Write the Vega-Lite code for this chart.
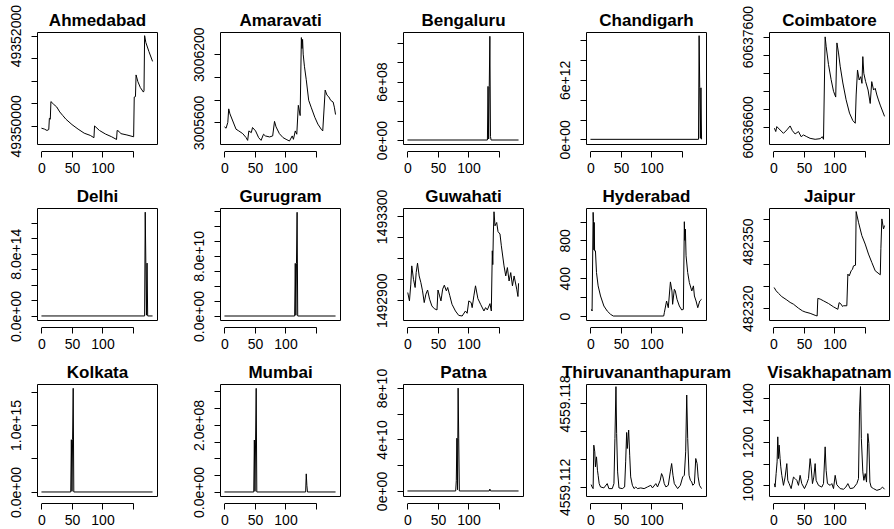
{
"$schema":"https://vega.github.io/schema/vega-lite/v6.json",
"background":"white",
"padding":{"left":8,"top":4,"right":5,"bottom":5},
"columns":5,
"bounds":"flush",
"spacing":{"column":63,"row":64},
"resolve":{"scale":{"x":"independent","y":"independent"}},
"config":{
 "font":"Liberation Sans",
 "view":{"stroke":"black","strokeWidth":1},
 "axis":{"grid":false,"labelFont":"Liberation Sans","labelFontSize":14,"labelColor":"black","tickColor":"black","domainColor":"black","labelOverlap":false,"labelFlush":false,"titleFont":"Liberation Sans"},
 "axisBottom":{"offset":7,"tickSize":6,"labelPadding":4,"domainDash":[91.58,400],"domainDashOffset":-4.44},
 "axisLeft":{"domain":false,"tickSize":6,"labelAngle":-90,"labelAlign":"center","labelBaseline":"bottom","labelPadding":8},
 "axisTop":{"domain":false,"ticks":false,"labels":false,"offset":0,"titleFontSize":17,"titleFontWeight":"bold","titleColor":"black","titleBaseline":"alphabetic","titleY":-7,"titlePadding":0,"titleAnchor":"middle"}
},
"datasets":{
"Ahmedabad":[{"t":0,"v":49349950},{"t":5,"v":49349930},{"t":9,"v":49349900},{"t":12,"v":49349920},{"t":13,"v":49350170},{"t":14.5,"v":49350150},{"t":15.5,"v":49350540},{"t":20,"v":49350480},{"t":25,"v":49350420},{"t":30,"v":49350310},{"t":35,"v":49350230},{"t":40,"v":49350150},{"t":50,"v":49350030},{"t":60,"v":49349930},{"t":70,"v":49349840},{"t":80,"v":49349790},{"t":86,"v":49349740},{"t":87,"v":49350000},{"t":95,"v":49349900},{"t":105,"v":49349820},{"t":115,"v":49349760},{"t":123,"v":49349700},{"t":124,"v":49349900},{"t":127,"v":49349880},{"t":130,"v":49349830},{"t":140,"v":49349800},{"t":151,"v":49349760},{"t":152,"v":49350640},{"t":154,"v":49350650},{"t":155,"v":49351130},{"t":158,"v":49350980},{"t":162,"v":49350850},{"t":167,"v":49350750},{"t":168,"v":49350780},{"t":169,"v":49352000},{"t":171,"v":49351850},{"t":176,"v":49351650},{"t":182,"v":49351430}],
"Amaravati":[{"t":0,"v":3005561},{"t":2.7,"v":3005549},{"t":5.5,"v":3005600},{"t":7,"v":3005719},{"t":9,"v":3005675},{"t":19,"v":3005540},{"t":23.5,"v":3005525},{"t":30,"v":3005501},{"t":35.5,"v":3005466},{"t":38,"v":3005442},{"t":40,"v":3005525},{"t":44,"v":3005510},{"t":46,"v":3005555},{"t":51,"v":3005525},{"t":56,"v":3005466},{"t":60,"v":3005442},{"t":64,"v":3005496},{"t":67,"v":3005481},{"t":74,"v":3005472},{"t":79,"v":3005481},{"t":82,"v":3005609},{"t":84.5,"v":3005561},{"t":90,"v":3005501},{"t":96,"v":3005466},{"t":101,"v":3005451},{"t":106.5,"v":3005436},{"t":111,"v":3005481},{"t":113,"v":3005451},{"t":116,"v":3005525},{"t":118.5,"v":3005496},{"t":121,"v":3005750},{"t":124,"v":3005660},{"t":126,"v":3006346},{"t":127,"v":3006250},{"t":128,"v":3006330},{"t":129,"v":3006200},{"t":131,"v":3006094},{"t":134,"v":3005975},{"t":138,"v":3005794},{"t":142,"v":3005734},{"t":148,"v":3005645},{"t":153,"v":3005585},{"t":158.5,"v":3005540},{"t":161,"v":3005525},{"t":165,"v":3005884},{"t":168,"v":3005839},{"t":171,"v":3005824},{"t":174,"v":3005794},{"t":178,"v":3005779},{"t":180,"v":3005734},{"t":182,"v":3005669}],
"Bengaluru":[{"t":0,"v":0},{"t":131,"v":0},{"t":132,"v":550000000},{"t":133,"v":10000000},{"t":134,"v":550000000},{"t":135,"v":1064000000},{"t":136,"v":34000000},{"t":137,"v":0},{"t":182,"v":0}],
"Chandigarh":[{"t":0,"v":0},{"t":177,"v":0},{"t":178,"v":10460000000000},{"t":179,"v":5200000000000},{"t":180,"v":100000000000},{"t":181,"v":5200000000000},{"t":182,"v":0}],
"Coimbatore":[{"t":1.6,"v":60636586},{"t":3.8,"v":60636549},{"t":5.5,"v":60636604},{"t":11,"v":60636566},{"t":16.4,"v":60636529},{"t":22,"v":60636567},{"t":27.3,"v":60636611},{"t":31,"v":60636559},{"t":35.5,"v":60636522},{"t":41,"v":60636549},{"t":45.4,"v":60636492},{"t":49.2,"v":60636511},{"t":54.6,"v":60636492},{"t":60,"v":60636474},{"t":68.3,"v":60636463},{"t":76.5,"v":60636470},{"t":80,"v":60636492},{"t":82,"v":60636463},{"t":84.7,"v":60637598},{"t":86.3,"v":60637494},{"t":90.2,"v":60637291},{"t":94.5,"v":60637124},{"t":98.4,"v":60636995},{"t":102,"v":60636931},{"t":104,"v":60637531},{"t":106.6,"v":60637420},{"t":109.3,"v":60637273},{"t":113.7,"v":60637087},{"t":119,"v":60636901},{"t":124.6,"v":60636753},{"t":130,"v":60636671},{"t":134,"v":60636641},{"t":135.5,"v":60636954},{"t":137.7,"v":60637231},{"t":140.4,"v":60637120},{"t":143,"v":60637157},{"t":145,"v":60637083},{"t":146.4,"v":60637379},{"t":148,"v":60637194},{"t":151,"v":60637102},{"t":155,"v":60637009},{"t":158.5,"v":60636860},{"t":161,"v":60637102},{"t":164,"v":60637009},{"t":166.7,"v":60637028},{"t":169.4,"v":60636954},{"t":172,"v":60636899},{"t":174.9,"v":60636842},{"t":182,"v":60636717}],
"Delhi":[{"t":0,"v":0},{"t":169,"v":0},{"t":170,"v":1.335e15},{"t":171,"v":6.8e14},{"t":172,"v":1e13},{"t":173,"v":6.8e14},{"t":174,"v":0},{"t":182,"v":0}],
"Gurugram":[{"t":0,"v":0},{"t":115,"v":0},{"t":116,"v":7e10},{"t":117,"v":1e9},{"t":118,"v":7e10},{"t":119,"v":1.379e11},{"t":120,"v":0},{"t":182,"v":0}],
"Guwahati":[{"t":0.5,"v":1492937},{"t":3.3,"v":1492897},{"t":5.5,"v":1492977},{"t":7.1,"v":1493064},{"t":9.9,"v":1493000},{"t":12.6,"v":1492961},{"t":14.3,"v":1493032},{"t":16.5,"v":1493077},{"t":19.2,"v":1493016},{"t":22,"v":1492984},{"t":24.7,"v":1492945},{"t":27.5,"v":1492889},{"t":30.2,"v":1492929},{"t":33,"v":1492949},{"t":36.3,"v":1492905},{"t":40,"v":1492873},{"t":44,"v":1492860},{"t":48.4,"v":1492854},{"t":50,"v":1492949},{"t":52.7,"v":1492921},{"t":54.9,"v":1492897},{"t":57.7,"v":1492953},{"t":60.4,"v":1492972},{"t":63.7,"v":1492945},{"t":65.9,"v":1492961},{"t":69.2,"v":1492924},{"t":73,"v":1492881},{"t":78.6,"v":1492849},{"t":84,"v":1492828},{"t":89.6,"v":1492825},{"t":95,"v":1492849},{"t":97.8,"v":1492838},{"t":100.5,"v":1492897},{"t":104.4,"v":1492889},{"t":106,"v":1492865},{"t":108.8,"v":1492921},{"t":111.5,"v":1492969},{"t":115.4,"v":1492908},{"t":119.8,"v":1492881},{"t":125.3,"v":1492849},{"t":128,"v":1492865},{"t":130.8,"v":1492854},{"t":135.2,"v":1492884},{"t":137.4,"v":1492849},{"t":139,"v":1493136},{"t":139.8,"v":1493070},{"t":140.7,"v":1493216},{"t":141.8,"v":1493322},{"t":143.4,"v":1493255},{"t":146.2,"v":1493271},{"t":148.4,"v":1493227},{"t":151.6,"v":1493216},{"t":153.8,"v":1493160},{"t":158.2,"v":1493064},{"t":161,"v":1493016},{"t":163.7,"v":1493056},{"t":166.5,"v":1492992},{"t":169.2,"v":1493032},{"t":172,"v":1492969},{"t":174.7,"v":1493016},{"t":179,"v":1492953},{"t":181,"v":1492918},{"t":182,"v":1492981}],
"Hyderabad":[{"t":1.6,"v":71},{"t":2.7,"v":53},{"t":4.4,"v":1097},{"t":5,"v":1000},{"t":5.6,"v":700},{"t":6.2,"v":990},{"t":6.8,"v":690},{"t":8.2,"v":690},{"t":9.9,"v":460},{"t":12.6,"v":319},{"t":16.5,"v":212},{"t":22,"v":106},{"t":27.5,"v":53},{"t":33,"v":18},{"t":37.4,"v":0},{"t":120,"v":0},{"t":121,"v":35},{"t":124.7,"v":159},{"t":127.5,"v":88},{"t":131,"v":361},{"t":133.5,"v":265},{"t":134.6,"v":124},{"t":137.4,"v":283},{"t":139,"v":265},{"t":141.8,"v":177},{"t":145.6,"v":106},{"t":149.5,"v":64},{"t":152.2,"v":71},{"t":153.8,"v":998},{"t":154.6,"v":800},{"t":155.5,"v":920},{"t":156.6,"v":637},{"t":159.3,"v":460},{"t":162,"v":354},{"t":166,"v":265},{"t":168.7,"v":319},{"t":170.3,"v":212},{"t":173,"v":159},{"t":175.8,"v":88},{"t":179,"v":159},{"t":182,"v":177}],
"Jaipur":[{"t":1.1,"v":482329.3},{"t":4.4,"v":482327.8},{"t":8.2,"v":482326.7},{"t":13.7,"v":482325.2},{"t":21.9,"v":482323.7},{"t":27.3,"v":482322.6},{"t":32.8,"v":482321.8},{"t":41,"v":482320.0},{"t":47.5,"v":482318.8},{"t":51.9,"v":482318.3},{"t":60.1,"v":482317.7},{"t":68.3,"v":482316.8},{"t":71.6,"v":482316.5},{"t":72.7,"v":482324.4},{"t":76.5,"v":482324.1},{"t":82,"v":482323.3},{"t":90.2,"v":482322.1},{"t":98.4,"v":482320.6},{"t":105.5,"v":482319.5},{"t":107.6,"v":482322.5},{"t":110.9,"v":482321.8},{"t":113,"v":482320.8},{"t":114.8,"v":482321.1},{"t":120.2,"v":482321.1},{"t":121.9,"v":482335.3},{"t":124.1,"v":482334.5},{"t":127.3,"v":482336.8},{"t":129.5,"v":482337.5},{"t":131.1,"v":482339.0},{"t":134.4,"v":482339.3},{"t":135.5,"v":482363.4},{"t":139.3,"v":482358.6},{"t":144.8,"v":482352.6},{"t":150.3,"v":482348.8},{"t":155.7,"v":482344.3},{"t":161.2,"v":482340.5},{"t":166.7,"v":482336.8},{"t":175,"v":482335.0},{"t":176,"v":482346.9},{"t":177.6,"v":482360.1},{"t":180.3,"v":482355.6},{"t":182,"v":482357.1}],
"Kolkata":[{"t":0,"v":0},{"t":48,"v":0},{"t":49,"v":7.8e14},{"t":50,"v":1e13},{"t":51,"v":7.8e14},{"t":52,"v":1.548e15},{"t":53,"v":0},{"t":182,"v":0}],
"Mumbai":[{"t":0,"v":0},{"t":48,"v":0},{"t":49,"v":155000000},{"t":50,"v":2000000},{"t":51,"v":155000000},{"t":52,"v":309000000},{"t":53,"v":0},{"t":133,"v":0},{"t":134,"v":54000000},{"t":135,"v":20000000},{"t":136,"v":0},{"t":182,"v":0}],
"Patna":[{"t":0,"v":0},{"t":79,"v":0},{"t":80,"v":8e9},{"t":81,"v":4.1e10},{"t":82,"v":1e9},{"t":83,"v":7.99e10},{"t":84,"v":4.1e10},{"t":85,"v":0},{"t":134,"v":0},{"t":135,"v":1.5e9},{"t":136,"v":0},{"t":182,"v":0}],
"Thiruvananthapuram":[{"t":1.1,"v":4559.11217},{"t":2.7,"v":4559.112},{"t":4.4,"v":4559.11188},{"t":5.5,"v":4559.115},{"t":7.1,"v":4559.11452},{"t":8.2,"v":4559.11344},{"t":9.9,"v":4559.11416},{"t":11.5,"v":4559.1132},{"t":12.6,"v":4559.11284},{"t":14.3,"v":4559.11224},{"t":16.5,"v":4559.112},{"t":22,"v":4559.11193},{"t":27.5,"v":4559.11224},{"t":30.2,"v":4559.11188},{"t":35.7,"v":4559.11188},{"t":38.5,"v":4559.11224},{"t":40.1,"v":4559.11548},{"t":41.8,"v":4559.1192},{"t":42.9,"v":4559.11584},{"t":44.5,"v":4559.11308},{"t":46.7,"v":4559.11193},{"t":52.2,"v":4559.11188},{"t":56,"v":4559.112},{"t":57.7,"v":4559.1138},{"t":59.3,"v":4559.11591},{"t":60.4,"v":4559.11476},{"t":62.6,"v":4559.11608},{"t":64.3,"v":4559.11428},{"t":65.9,"v":4559.11272},{"t":68.7,"v":4559.11212},{"t":71.4,"v":4559.11188},{"t":74.2,"v":4559.112},{"t":76.9,"v":4559.11188},{"t":82.4,"v":4559.11193},{"t":87.9,"v":4559.11188},{"t":93.4,"v":4559.112},{"t":98.9,"v":4559.11212},{"t":101.6,"v":4559.11193},{"t":107.1,"v":4559.11224},{"t":109.9,"v":4559.112},{"t":114.3,"v":4559.11248},{"t":116.5,"v":4559.11296},{"t":118.7,"v":4559.11272},{"t":120.9,"v":4559.11224},{"t":123.6,"v":4559.112},{"t":127.5,"v":4559.11212},{"t":130.8,"v":4559.11308},{"t":133,"v":4559.11368},{"t":135.2,"v":4559.11284},{"t":137.4,"v":4559.11224},{"t":142.9,"v":4559.11188},{"t":147.3,"v":4559.11212},{"t":151.1,"v":4559.11272},{"t":153.8,"v":4559.11284},{"t":156,"v":4559.11452},{"t":157.7,"v":4559.1186},{"t":159.3,"v":4559.11548},{"t":161.5,"v":4559.11284},{"t":163.7,"v":4559.11248},{"t":165.9,"v":4559.11236},{"t":167.6,"v":4559.11212},{"t":170.3,"v":4559.11224},{"t":172.5,"v":4559.11404},{"t":174.7,"v":4559.11368},{"t":176.4,"v":4559.11272},{"t":178.6,"v":4559.11212},{"t":182,"v":4559.11188}],
"Visakhapatnam":[{"t":1.6,"v":1008},{"t":2.7,"v":992},{"t":4.4,"v":1054},{"t":6,"v":1108},{"t":7.1,"v":1223},{"t":8.2,"v":1123},{"t":9.3,"v":1185},{"t":10.9,"v":1123},{"t":12,"v":1085},{"t":13.7,"v":1046},{"t":16.4,"v":1000},{"t":19.1,"v":1038},{"t":21.9,"v":1100},{"t":23.5,"v":1023},{"t":25.7,"v":1008},{"t":29,"v":985},{"t":32.8,"v":1038},{"t":35.5,"v":1031},{"t":38.3,"v":1023},{"t":41,"v":1000},{"t":43.7,"v":1046},{"t":46.4,"v":1008},{"t":50.8,"v":985},{"t":54.6,"v":1008},{"t":57.4,"v":1031},{"t":60.1,"v":1123},{"t":61.7,"v":1085},{"t":63.9,"v":1008},{"t":66.1,"v":1038},{"t":68.3,"v":1100},{"t":69.9,"v":1023},{"t":73.8,"v":1000},{"t":79.2,"v":992},{"t":82,"v":1008},{"t":84.7,"v":1177},{"t":86.3,"v":1069},{"t":88.5,"v":1008},{"t":92.9,"v":1000},{"t":95.6,"v":1008},{"t":98.4,"v":985},{"t":101.1,"v":1046},{"t":103.8,"v":1003},{"t":109.3,"v":985},{"t":114.8,"v":982},{"t":118.6,"v":992},{"t":121.9,"v":1008},{"t":125.7,"v":985},{"t":131.1,"v":988},{"t":136.6,"v":1008},{"t":139.3,"v":1031},{"t":141,"v":1338},{"t":142.6,"v":1454},{"t":144,"v":1215},{"t":146.4,"v":1062},{"t":148.1,"v":1023},{"t":150.3,"v":1054},{"t":152.5,"v":1015},{"t":154.6,"v":1238},{"t":156.3,"v":1192},{"t":158,"v":1015},{"t":160.1,"v":992},{"t":163.9,"v":985},{"t":169.4,"v":977},{"t":174.9,"v":982},{"t":178.7,"v":992},{"t":182,"v":982}]
},
"concat":[
{"data":{"name":"Ahmedabad"},"width":120,"height":112,
 "encoding":{"y":{"field":"v","type":"quantitative","scale":{"domain":[49349600,49352081],"nice":false,"zero":false},"axis":{"title":null,"values":[49350000,49350500,49351000,49351500,49352000],"labelExpr":"datum.value==49350000||datum.value==49352000?format(datum.value,'d'):''"}}},
 "layer":[
  {"mark":{"type":"line","color":"black","strokeWidth":1},"encoding":{"x":{"field":"t","type":"quantitative","scale":{"domain":[-7.28,189.28],"nice":false,"zero":false},"axis":{"title":null,"values":[0,50,100,150],"labelExpr":"datum.value<150?datum.label:''"}}}},
  {"mark":{"type":"line","opacity":0},"encoding":{"x":{"field":"t","type":"quantitative","axis":{"orient":"top","title":"Ahmedabad"}}}}
 ],"resolve":{"axis":{"x":"independent"}}},
{"data":{"name":"Amaravati"},"width":120,"height":112,
 "encoding":{"y":{"field":"v","type":"quantitative","scale":{"domain":[3005410,3006395],"nice":false,"zero":false},"axis":{"title":null,"values":[3005600,3005800,3006000,3006200],"labelExpr":"datum.value==3005600||datum.value==3006200?format(datum.value,'d'):''"}}},
 "layer":[
  {"mark":{"type":"line","color":"black","strokeWidth":1},"encoding":{"x":{"field":"t","type":"quantitative","scale":{"domain":[-7.28,189.28],"nice":false,"zero":false},"axis":{"title":null,"values":[0,50,100,150],"labelExpr":"datum.value<150?datum.label:''"}}}},
  {"mark":{"type":"line","opacity":0},"encoding":{"x":{"field":"t","type":"quantitative","axis":{"orient":"top","title":"Amaravati"}}}}
 ],"resolve":{"axis":{"x":"independent"}}},
{"data":{"name":"Bengaluru"},"width":120,"height":112,
 "encoding":{"y":{"field":"v","type":"quantitative","scale":{"domain":[-41000000,1108000000],"nice":false,"zero":false},"axis":{"title":null,"values":[0,200000000,400000000,600000000,800000000,1000000000],"labelExpr":"datum.value==0?'0e+00':datum.value==600000000?'6e+08':''"}}},
 "layer":[
  {"mark":{"type":"line","color":"black","strokeWidth":1},"encoding":{"x":{"field":"t","type":"quantitative","scale":{"domain":[-7.28,189.28],"nice":false,"zero":false},"axis":{"title":null,"values":[0,50,100,150],"labelExpr":"datum.value<150?datum.label:''"}}}},
  {"mark":{"type":"line","opacity":0},"encoding":{"x":{"field":"t","type":"quantitative","axis":{"orient":"top","title":"Bengaluru"}}}}
 ],"resolve":{"axis":{"x":"independent"}}},
{"data":{"name":"Chandigarh"},"width":120,"height":112,
 "encoding":{"y":{"field":"v","type":"quantitative","scale":{"domain":[-470000000000,10830000000000],"nice":false,"zero":false},"axis":{"title":null,"values":[0,2e12,4e12,6e12,8e12,1e13],"labelExpr":"datum.value==0?'0e+00':datum.value==6e12?'6e+12':''"}}},
 "layer":[
  {"mark":{"type":"line","color":"black","strokeWidth":1},"encoding":{"x":{"field":"t","type":"quantitative","scale":{"domain":[-7.28,189.28],"nice":false,"zero":false},"axis":{"title":null,"values":[0,50,100,150],"labelExpr":"datum.value<150?datum.label:''"}}}},
  {"mark":{"type":"line","opacity":0},"encoding":{"x":{"field":"t","type":"quantitative","axis":{"orient":"top","title":"Chandigarh"}}}}
 ],"resolve":{"axis":{"x":"independent"}}},
{"data":{"name":"Coimbatore"},"width":120,"height":112,
 "encoding":{"y":{"field":"v","type":"quantitative","scale":{"domain":[60636411,60637652],"nice":false,"zero":false},"axis":{"title":null,"values":[60636600,60636800,60637000,60637200,60637400,60637600],"labelExpr":"datum.value==60636600||datum.value==60637600?format(datum.value,'d'):''"}}},
 "layer":[
  {"mark":{"type":"line","color":"black","strokeWidth":1},"encoding":{"x":{"field":"t","type":"quantitative","scale":{"domain":[-7.28,189.28],"nice":false,"zero":false},"axis":{"title":null,"values":[0,50,100,150],"labelExpr":"datum.value<150?datum.label:''"}}}},
  {"mark":{"type":"line","opacity":0},"encoding":{"x":{"field":"t","type":"quantitative","axis":{"orient":"top","title":"Coimbatore"}}}}
 ],"resolve":{"axis":{"x":"independent"}}},
{"data":{"name":"Delhi"},"width":120,"height":112,
 "encoding":{"y":{"field":"v","type":"quantitative","scale":{"domain":[-5.2e13,1.389e15],"nice":false,"zero":false},"axis":{"title":null,"values":[0,2e14,4e14,6e14,8e14,1e15,1.2e15,1.4e15],"labelExpr":"datum.value==0?'0.0e+00':datum.value==8e14?'8.0e+14':''"}}},
 "layer":[
  {"mark":{"type":"line","color":"black","strokeWidth":1},"encoding":{"x":{"field":"t","type":"quantitative","scale":{"domain":[-7.28,189.28],"nice":false,"zero":false},"axis":{"title":null,"values":[0,50,100,150],"labelExpr":"datum.value<150?datum.label:''"}}}},
  {"mark":{"type":"line","opacity":0},"encoding":{"x":{"field":"t","type":"quantitative","axis":{"orient":"top","title":"Delhi"}}}}
 ],"resolve":{"axis":{"x":"independent"}}},
{"data":{"name":"Gurugram"},"width":120,"height":112,
 "encoding":{"y":{"field":"v","type":"quantitative","scale":{"domain":[-5.3e9,1.436e11],"nice":false,"zero":false},"axis":{"title":null,"values":[0,2e10,4e10,6e10,8e10,1e11,1.2e11,1.4e11],"labelExpr":"datum.value==0?'0.0e+00':datum.value==8e10?'8.0e+10':''"}}},
 "layer":[
  {"mark":{"type":"line","color":"black","strokeWidth":1},"encoding":{"x":{"field":"t","type":"quantitative","scale":{"domain":[-7.28,189.28],"nice":false,"zero":false},"axis":{"title":null,"values":[0,50,100,150],"labelExpr":"datum.value<150?datum.label:''"}}}},
  {"mark":{"type":"line","opacity":0},"encoding":{"x":{"field":"t","type":"quantitative","axis":{"orient":"top","title":"Gurugram"}}}}
 ],"resolve":{"axis":{"x":"independent"}}},
{"data":{"name":"Guwahati"},"width":120,"height":112,
 "encoding":{"y":{"field":"v","type":"quantitative","scale":{"domain":[1492806,1493340],"nice":false,"zero":false},"axis":{"title":null,"values":[1492900,1493000,1493100,1493200,1493300],"labelExpr":"datum.value==1492900||datum.value==1493300?format(datum.value,'d'):''"}}},
 "layer":[
  {"mark":{"type":"line","color":"black","strokeWidth":1},"encoding":{"x":{"field":"t","type":"quantitative","scale":{"domain":[-7.28,189.28],"nice":false,"zero":false},"axis":{"title":null,"values":[0,50,100,150],"labelExpr":"datum.value<150?datum.label:''"}}}},
  {"mark":{"type":"line","opacity":0},"encoding":{"x":{"field":"t","type":"quantitative","axis":{"orient":"top","title":"Guwahati"}}}}
 ],"resolve":{"axis":{"x":"independent"}}},
{"data":{"name":"Hyderabad"},"width":120,"height":112,
 "encoding":{"y":{"field":"v","type":"quantitative","scale":{"domain":[-42,1143],"nice":false,"zero":false},"axis":{"title":null,"values":[0,200,400,600,800,1000],"labelExpr":"datum.value==0||datum.value==400||datum.value==800?format(datum.value,'d'):''"}}},
 "layer":[
  {"mark":{"type":"line","color":"black","strokeWidth":1},"encoding":{"x":{"field":"t","type":"quantitative","scale":{"domain":[-7.28,189.28],"nice":false,"zero":false},"axis":{"title":null,"values":[0,50,100,150],"labelExpr":"datum.value<150?datum.label:''"}}}},
  {"mark":{"type":"line","opacity":0},"encoding":{"x":{"field":"t","type":"quantitative","axis":{"orient":"top","title":"Hyderabad"}}}}
 ],"resolve":{"axis":{"x":"independent"}}},
{"data":{"name":"Jaipur"},"width":120,"height":112,
 "encoding":{"y":{"field":"v","type":"quantitative","scale":{"domain":[482314.7,482365],"nice":false,"zero":false},"axis":{"title":null,"values":[482320,482330,482340,482350,482360],"labelExpr":"datum.value==482320||datum.value==482350?format(datum.value,'d'):''"}}},
 "layer":[
  {"mark":{"type":"line","color":"black","strokeWidth":1},"encoding":{"x":{"field":"t","type":"quantitative","scale":{"domain":[-7.28,189.28],"nice":false,"zero":false},"axis":{"title":null,"values":[0,50,100,150],"labelExpr":"datum.value<150?datum.label:''"}}}},
  {"mark":{"type":"line","opacity":0},"encoding":{"x":{"field":"t","type":"quantitative","axis":{"orient":"top","title":"Jaipur"}}}}
 ],"resolve":{"axis":{"x":"independent"}}},
{"data":{"name":"Kolkata"},"width":120,"height":112,
 "encoding":{"y":{"field":"v","type":"quantitative","scale":{"domain":[-6e13,1.612e15],"nice":false,"zero":false},"axis":{"title":null,"values":[0,5e14,1e15,1.5e15],"labelExpr":"datum.value==0?'0.0e+00':datum.value==1e15?'1.0e+15':''"}}},
 "layer":[
  {"mark":{"type":"line","color":"black","strokeWidth":1},"encoding":{"x":{"field":"t","type":"quantitative","scale":{"domain":[-7.28,189.28],"nice":false,"zero":false},"axis":{"title":null,"values":[0,50,100,150],"labelExpr":"datum.value<150?datum.label:''"}}}},
  {"mark":{"type":"line","opacity":0},"encoding":{"x":{"field":"t","type":"quantitative","axis":{"orient":"top","title":"Kolkata"}}}}
 ],"resolve":{"axis":{"x":"independent"}}},
{"data":{"name":"Mumbai"},"width":120,"height":112,
 "encoding":{"y":{"field":"v","type":"quantitative","scale":{"domain":[-12000000,322000000],"nice":false,"zero":false},"axis":{"title":null,"values":[0,50000000,100000000,150000000,200000000,250000000,300000000],"labelExpr":"datum.value==0?'0.0e+00':datum.value==200000000?'2.0e+08':''"}}},
 "layer":[
  {"mark":{"type":"line","color":"black","strokeWidth":1},"encoding":{"x":{"field":"t","type":"quantitative","scale":{"domain":[-7.28,189.28],"nice":false,"zero":false},"axis":{"title":null,"values":[0,50,100,150],"labelExpr":"datum.value<150?datum.label:''"}}}},
  {"mark":{"type":"line","opacity":0},"encoding":{"x":{"field":"t","type":"quantitative","axis":{"orient":"top","title":"Mumbai"}}}}
 ],"resolve":{"axis":{"x":"independent"}}},
{"data":{"name":"Patna"},"width":120,"height":112,
 "encoding":{"y":{"field":"v","type":"quantitative","scale":{"domain":[-3.9e9,8.31e10],"nice":false,"zero":false},"axis":{"title":null,"values":[0,2e10,4e10,6e10,8e10],"labelExpr":"datum.value==0?'0e+00':datum.value==4e10?'4e+10':datum.value==8e10?'8e+10':''"}}},
 "layer":[
  {"mark":{"type":"line","color":"black","strokeWidth":1},"encoding":{"x":{"field":"t","type":"quantitative","scale":{"domain":[-7.28,189.28],"nice":false,"zero":false},"axis":{"title":null,"values":[0,50,100,150],"labelExpr":"datum.value<150?datum.label:''"}}}},
  {"mark":{"type":"line","opacity":0},"encoding":{"x":{"field":"t","type":"quantitative","axis":{"orient":"top","title":"Patna"}}}}
 ],"resolve":{"axis":{"x":"independent"}}},
{"data":{"name":"Thiruvananthapuram"},"width":120,"height":112,
 "encoding":{"y":{"field":"v","type":"quantitative","scale":{"domain":[4559.11135,4559.11939],"nice":false,"zero":false},"axis":{"title":null,"values":[4559.112,4559.114,4559.116,4559.118],"labelExpr":"datum.value==4559.112?'4559.112':datum.value==4559.118?'4559.118':''"}}},
 "layer":[
  {"mark":{"type":"line","color":"black","strokeWidth":1},"encoding":{"x":{"field":"t","type":"quantitative","scale":{"domain":[-7.28,189.28],"nice":false,"zero":false},"axis":{"title":null,"values":[0,50,100,150],"labelExpr":"datum.value<150?datum.label:''"}}}},
  {"mark":{"type":"line","opacity":0},"encoding":{"x":{"field":"t","type":"quantitative","axis":{"orient":"top","title":"Thiruvananthapuram"}}}}
 ],"resolve":{"axis":{"x":"independent"}}},
{"data":{"name":"Visakhapatnam"},"width":120,"height":112,
 "encoding":{"y":{"field":"v","type":"quantitative","scale":{"domain":[951,1466],"nice":false,"zero":false},"axis":{"title":null,"values":[1000,1100,1200,1300,1400],"labelExpr":"datum.value==1000||datum.value==1200||datum.value==1400?format(datum.value,'d'):''"}}},
 "layer":[
  {"mark":{"type":"line","color":"black","strokeWidth":1},"encoding":{"x":{"field":"t","type":"quantitative","scale":{"domain":[-7.28,189.28],"nice":false,"zero":false},"axis":{"title":null,"values":[0,50,100,150],"labelExpr":"datum.value<150?datum.label:''"}}}},
  {"mark":{"type":"line","opacity":0},"encoding":{"x":{"field":"t","type":"quantitative","axis":{"orient":"top","title":"Visakhapatnam"}}}}
 ],"resolve":{"axis":{"x":"independent"}}}
]
}
